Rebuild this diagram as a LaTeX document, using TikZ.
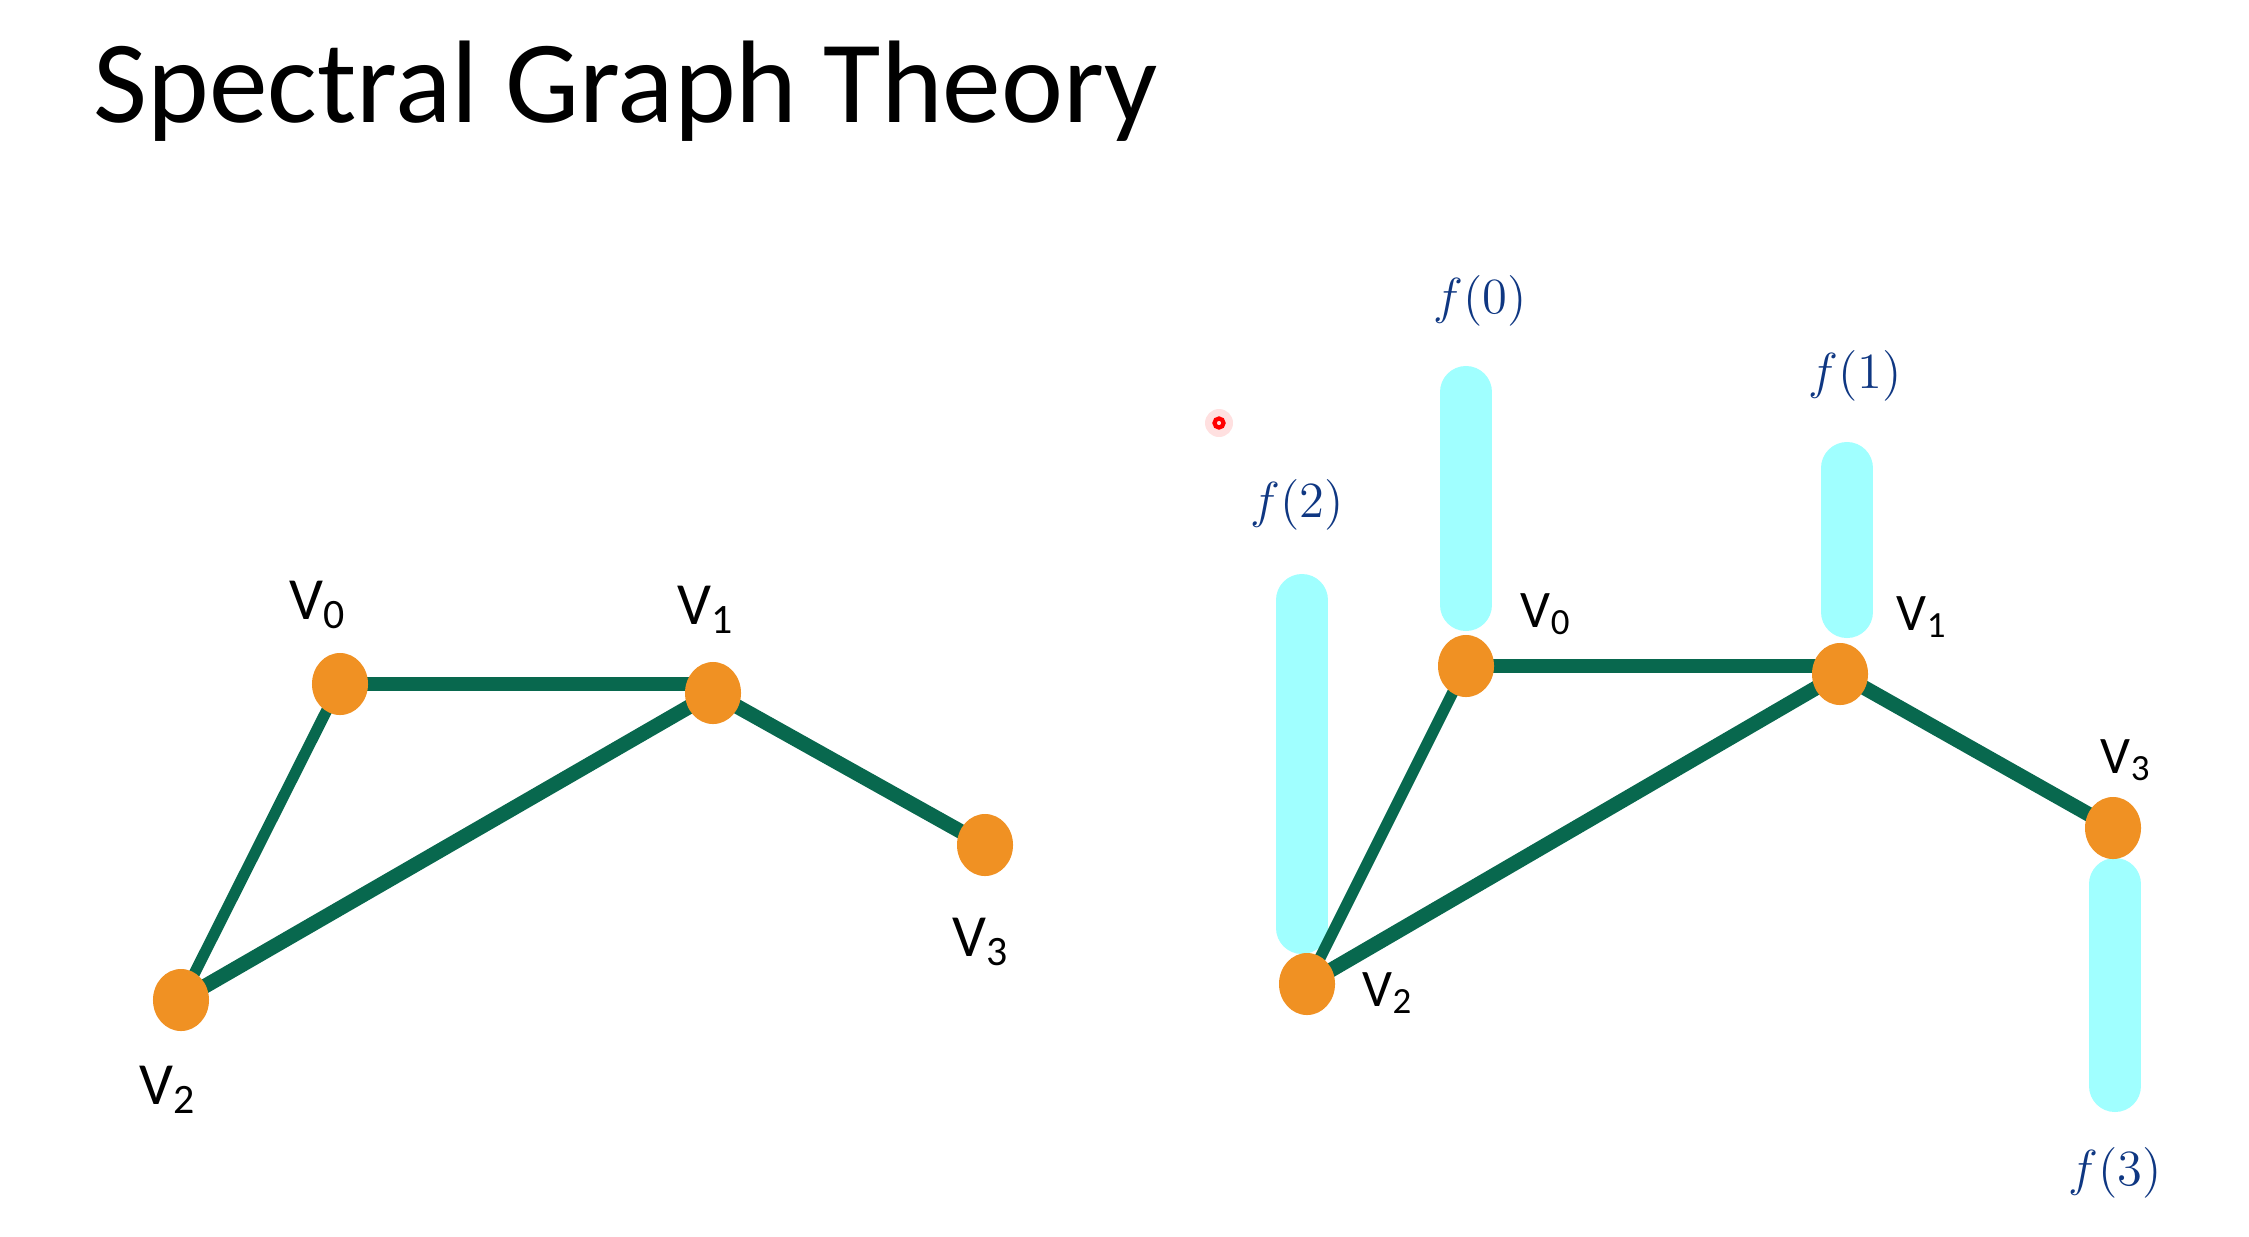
\documentclass[tikz,border=0pt]{standalone}
\usepackage{fontspec}
\setmainfont{Carlito}
\usetikzlibrary{shapes.geometric,backgrounds}

\definecolor{edgegreen}{RGB}{8,104,78}
\definecolor{vorange}{RGB}{240,145,35}
\definecolor{barcyan}{RGB}{160,255,255}
\definecolor{penblue}{RGB}{15,55,130}

\tikzset{
  vertex/.style={ellipse, fill=vorange, minimum width=0.56cm, minimum height=0.62cm, inner sep=0pt},
  edge/.style={draw=edgegreen, line width=4.2pt},
  thinedge/.style={draw=edgegreen, line width=3.2pt},
  bar/.style={draw=barcyan, line width=0.52cm, line cap=round},
  vlabel/.style={font=\fontsize{17}{20}\selectfont, inner sep=0pt},
  vlabelsmall/.style={font=\fontsize{15}{18}\selectfont, inner sep=0pt},
  flabel/.style={text=penblue, font=\fontsize{15}{18}\selectfont, inner sep=0pt},
}

\begin{document}
\begin{tikzpicture}[x=0.01cm, y=-0.01cm]
  \useasboundingbox (0,0) rectangle (2249,1236);

  \node[anchor=base west, inner sep=0pt, font=\fontsize{33.4}{40}\selectfont] (title) at (93,122) {Spectral Graph Theory};

  % left graph
  \node[vertex] (lv0) at (340,684) {};
  \node[vertex] (lv1) at (713,693) {};
  \node[vertex] (lv2) at (181,1000) {};
  \node[vertex] (lv3) at (985,845) {};
  \node[vlabel] (llab0) at (318,605) {V\textsubscript{0}};
  \node[vlabel] (llab1) at (706,610) {V\textsubscript{1}};
  \node[vlabel] (llab2) at (168,1090) {V\textsubscript{2}};
  \node[vlabel] (llab3) at (981,942) {V\textsubscript{3}};

  % right graph
  \node[vertex] (rv0) at (1466,666) {};
  \node[vertex] (rv1) at (1840,674) {};
  \node[vertex] (rv2) at (1307,984) {};
  \node[vertex] (rv3) at (2113,828) {};
  \node[vlabelsmall] (rlab0) at (1546,614) {V\textsubscript{0}};
  \node[vlabelsmall] (rlab1) at (1922,617) {V\textsubscript{1}};
  \node[vlabelsmall] (rlab2) at (1388,993) {V\textsubscript{2}};
  \node[vlabelsmall] (rlab3) at (2126,760) {V\textsubscript{3}};

  % function values
  \coordinate (top0) at (1466,392);  \coordinate (bot0) at (1466,605);
  \coordinate (top1) at (1847,468);  \coordinate (bot1) at (1847,612);
  \coordinate (top2) at (1302,600);  \coordinate (bot2) at (1302,928);
  \coordinate (top3) at (2115,884);  \coordinate (bot3) at (2115,1086);
  \node[flabel] (f0) at (1480,301) {$f(0)$};
  \node[flabel] (f1) at (1855,376) {$f(1)$};
  \node[flabel] (f2) at (1297,505) {$f(2)$};
  \node[flabel] (f3) at (2115,1173) {$f(3)$};

  % pointer
  \fill[red!12] (1219,423) circle (14);
  \node[circle, draw=red, line width=1.2pt, minimum size=0.09cm, inner sep=0pt] (cursor) at (1219,423) {};

  \begin{scope}[on background layer]
    \draw[edge] (lv0.center) -- (lv0.center -| lv1.center);
    \draw[edge] (lv1.center) -- (lv2.center);
    \draw[edge] (lv1.center) -- (lv3.center);
    \draw[thinedge] (lv0.center) -- (lv2.center);

    \draw[bar] (top0) -- (bot0);
    \draw[bar] (top1) -- (bot1);
    \draw[bar] (top2) -- (bot2);
    \draw[bar] (top3) -- (bot3);

    \draw[edge] (rv0.center) -- (rv0.center -| rv1.center);
    \draw[edge] (rv1.center) -- (rv2.center);
    \draw[edge] (rv1.center) -- (rv3.center);
    \draw[thinedge] (rv0.center) -- (rv2.center);
  \end{scope}
\end{tikzpicture}
\end{document}
